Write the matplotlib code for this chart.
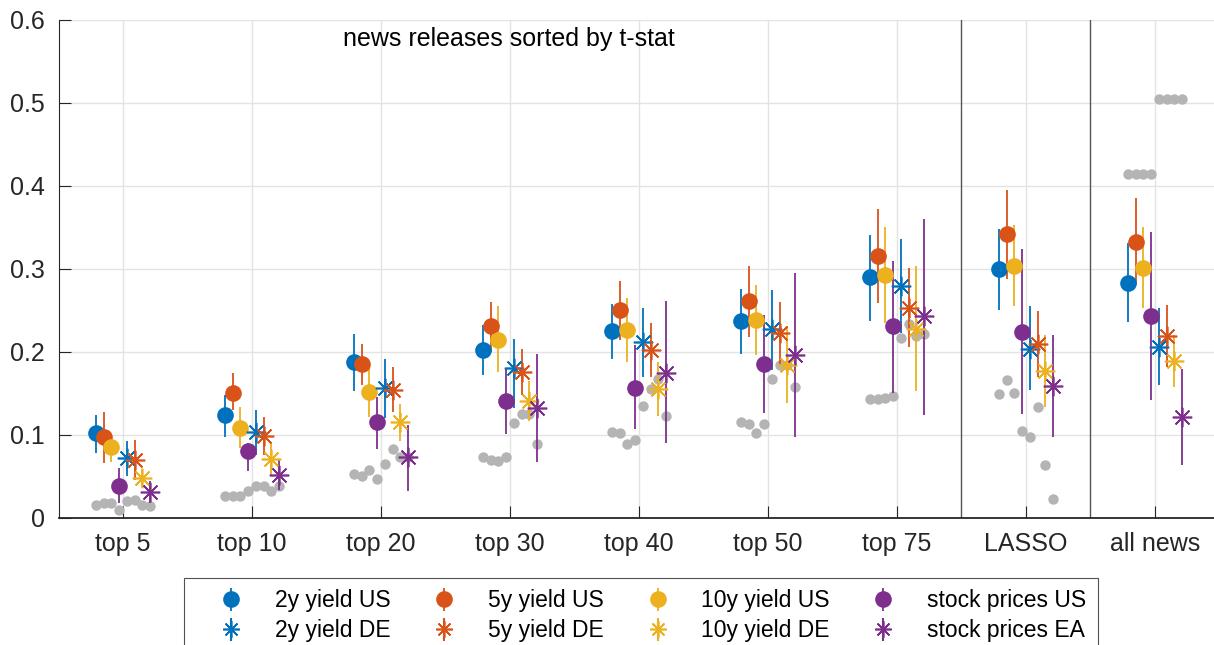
import numpy as np
import matplotlib
matplotlib.use('Agg')
from matplotlib import pyplot as plt

plt.rcParams['font.family'] = ['Liberation Sans', 'DejaVu Sans']

groups = ['top 5', 'top 10', 'top 20', 'top 30', 'top 40', 'top 50', 'top 75', 'LASSO', 'all news']

# point estimates and bands, one list per series
us2 = [0.102, 0.124, 0.188, 0.202, 0.225, 0.237, 0.290, 0.300, 0.283]
us2_lo = [0.078, 0.098, 0.153, 0.172, 0.192, 0.198, 0.237, 0.251, 0.236]
us2_hi = [0.124, 0.148, 0.222, 0.232, 0.258, 0.276, 0.341, 0.348, 0.331]

us5 = [0.097, 0.151, 0.186, 0.231, 0.251, 0.261, 0.316, 0.342, 0.333]
us5_lo = [0.066, 0.130, 0.160, 0.200, 0.215, 0.218, 0.259, 0.288, 0.281]
us5_hi = [0.128, 0.175, 0.210, 0.260, 0.286, 0.303, 0.372, 0.395, 0.386]

us10 = [0.086, 0.108, 0.152, 0.215, 0.227, 0.239, 0.293, 0.304, 0.301]
us10_lo = [0.068, 0.084, 0.122, 0.176, 0.188, 0.196, 0.235, 0.255, 0.253]
us10_hi = [0.096, 0.134, 0.187, 0.255, 0.265, 0.281, 0.350, 0.353, 0.350]

stus = [0.039, 0.081, 0.115, 0.141, 0.157, 0.186, 0.231, 0.224, 0.243]
stus_lo = [0.018, 0.056, 0.083, 0.101, 0.107, 0.126, 0.150, 0.125, 0.142]
stus_hi = [0.060, 0.090, 0.146, 0.180, 0.208, 0.245, 0.310, 0.324, 0.344]

de2 = [0.072, 0.103, 0.157, 0.181, 0.212, 0.228, 0.279, 0.204, 0.206]
de2_lo = [0.050, 0.076, 0.121, 0.132, 0.170, 0.178, 0.223, 0.154, 0.160]
de2_hi = [0.093, 0.130, 0.191, 0.216, 0.253, 0.275, 0.336, 0.255, 0.253]

de5 = [0.070, 0.099, 0.154, 0.176, 0.202, 0.223, 0.253, 0.210, 0.219]
de5_lo = [0.046, 0.076, 0.128, 0.148, 0.170, 0.186, 0.206, 0.170, 0.182]
de5_hi = [0.094, 0.122, 0.182, 0.204, 0.235, 0.260, 0.301, 0.249, 0.257]

de10 = [0.048, 0.071, 0.115, 0.141, 0.155, 0.184, 0.228, 0.177, 0.189]
de10_lo = [0.037, 0.052, 0.093, 0.117, 0.123, 0.139, 0.153, 0.134, 0.158]
de10_hi = [0.059, 0.090, 0.137, 0.165, 0.188, 0.231, 0.303, 0.221, 0.221]

stea = [0.031, 0.052, 0.073, 0.132, 0.175, 0.196, 0.243, 0.159, 0.122]
stea_lo = [0.018, 0.034, 0.032, 0.068, 0.090, 0.097, 0.124, 0.097, 0.064]
stea_hi = [0.045, 0.070, 0.112, 0.198, 0.261, 0.295, 0.360, 0.221, 0.179]

# grey dots, 8 per group
grey = [
    [0.016, 0.018, 0.018, 0.009, 0.020, 0.022, 0.016, 0.014],
    [0.026, 0.026, 0.027, 0.032, 0.039, 0.039, 0.033, 0.039],
    [0.053, 0.051, 0.058, 0.047, 0.065, 0.083, 0.074, 0.073],
    [0.073, 0.070, 0.069, 0.074, 0.114, 0.125, 0.125, 0.089],
    [0.103, 0.102, 0.089, 0.094, 0.135, 0.155, 0.167, 0.123],
    [0.116, 0.113, 0.102, 0.113, 0.168, 0.184, 0.184, 0.158],
    [0.143, 0.143, 0.144, 0.147, 0.217, 0.234, 0.219, 0.222],
    [0.149, 0.166, 0.150, 0.105, 0.097, 0.134, 0.064, 0.023],
    [0.414, 0.414, 0.414, 0.414, 0.505, 0.505, 0.505, 0.505],
]

blue = '#0072BD'
orange = '#D95319'
yellow = '#EDB120'
purple = '#7E2F8E'

star = (8, 2, 0)
series = [
    (us2, us2_lo, us2_hi, blue, 'o', '2y yield US'),
    (us5, us5_lo, us5_hi, orange, 'o', '5y yield US'),
    (us10, us10_lo, us10_hi, yellow, 'o', '10y yield US'),
    (stus, stus_lo, stus_hi, purple, 'o', 'stock prices US'),
    (de2, de2_lo, de2_hi, blue, star, '2y yield DE'),
    (de5, de5_lo, de5_hi, orange, star, '5y yield DE'),
    (de10, de10_lo, de10_hi, yellow, star, '10y yield DE'),
    (stea, stea_lo, stea_hi, purple, star, 'stock prices EA'),
]

fig = plt.figure(figsize=(12.14, 6.45), dpi=100)
ax = fig.add_axes([0.0482, 0.197, 0.9563, 0.772])

x = np.arange(1, len(groups) + 1)
offsets = (np.arange(8) - 3.5) * 0.06

for k in range(8):
    ax.plot(x + offsets[k], [g[k] for g in grey], 'o', color='#b4b4b4', markersize=7.5,
            markeredgewidth=0, zorder=2)

handles = {}
for k, (v, lo, hi, c, m, lab) in enumerate(series):
    v = np.array(v)
    err = [v - np.array(lo), np.array(hi) - v]
    if m == 'o':
        h = ax.errorbar(x + offsets[k], v, yerr=err, fmt='o', color=c, markersize=12,
                        markeredgewidth=0, elinewidth=1.3, capsize=0, zorder=3)
    else:
        ax.errorbar(x + offsets[k], v, yerr=err, fmt='none', ecolor=c,
                    elinewidth=1.3, capsize=0, zorder=3)
        ax.plot(x + offsets[k], v, linestyle='none', marker=m, color=c, markersize=14,
                markeredgewidth=1.2, zorder=4)
        eb = ax.errorbar([np.nan], [np.nan], yerr=[[0.1], [0.1]], fmt='none', ecolor=c)
        h = (ax.plot([], [], linestyle='none', marker=m, color=c, markersize=12,
                     markeredgewidth=1.2)[0], eb)
    handles[lab] = h

# separators for LASSO and all news
for xs in [7.5, 8.5]:
    ax.axvline(xs, color='#555555', linewidth=1, zorder=1)

ax.text(2.705, 0.577, 'news releases sorted by t-stat', fontsize=18, va='center', ha='left')

ax.set_xlim(0.5, 9.5)
ax.set_ylim(0, 0.6)
ax.set_xticks(x)
ax.set_xticklabels(groups)
ax.set_yticks(np.arange(0, 0.61, 0.1))
ax.set_yticklabels(['0', '0.1', '0.2', '0.3', '0.4', '0.5', '0.6'])
ax.tick_params(direction='in', length=8.5, labelsize=18, colors='#262626')
ax.tick_params(axis='y', pad=10)
ax.tick_params(axis='x', pad=10)
ax.grid(True, color='#e3e3e3', linewidth=1)
ax.set_axisbelow(True)
for s in ['top', 'right']:
    ax.spines[s].set_visible(False)
ax.spines['left'].set_color('#262626')
ax.spines['bottom'].set_color('#262626')
ax.spines['bottom'].set_linewidth(1.3)

order = ['2y yield US', '2y yield DE', '5y yield US', '5y yield DE',
         '10y yield US', '10y yield DE', 'stock prices US', 'stock prices EA']
leg = fig.legend([handles[o] for o in order], order, ncol=4, loc='upper center',
                 bbox_to_anchor=(0.528, 0.104), fontsize=16.5, frameon=True, fancybox=False,
                 edgecolor='#262626', columnspacing=0.8, handletextpad=0.35,
                 labelspacing=0.3, borderpad=0.5, handlelength=3.1, borderaxespad=0)
leg.get_frame().set_linewidth(0.8)

fig.savefig('out.png', dpi=100)
